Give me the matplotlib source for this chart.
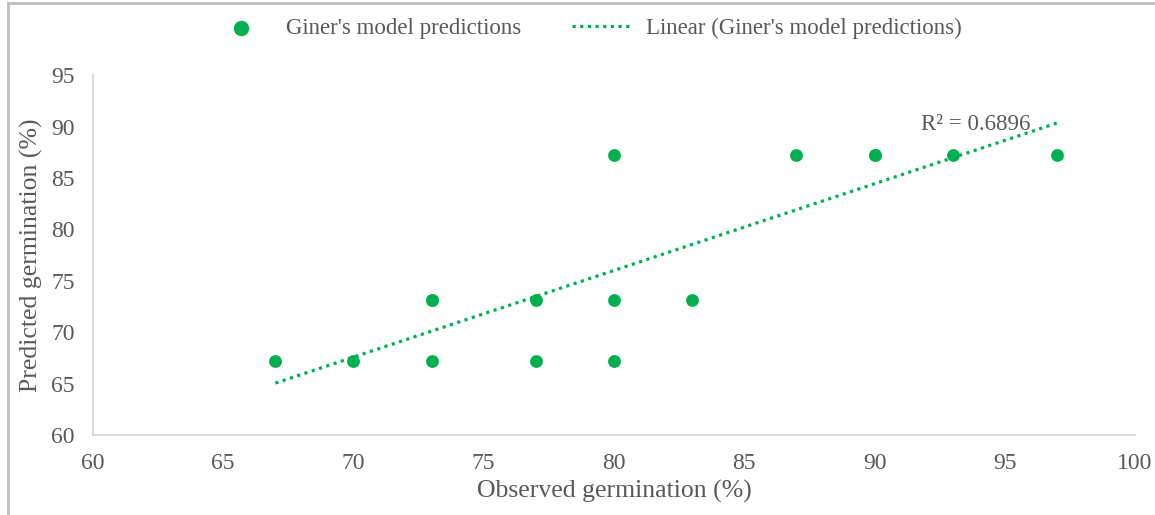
import matplotlib
matplotlib.use("Agg")
import matplotlib.pyplot as plt
from matplotlib.lines import Line2D
import numpy as np

plt.rcParams['font.family'] = ['Liberation Serif', 'DejaVu Serif']

# observed vs predicted germination (%); repeated pairs sit on top of each other
observed = [67, 70, 73, 73, 73, 77, 77, 80, 80, 80, 83, 87, 90, 90, 93, 97]
predicted = [67.2, 67.2, 67.2, 73.1, 73.1, 73.1, 67.2, 87.2, 73.1, 67.2, 73.1,
             87.2, 87.2, 87.2, 87.2, 87.2]
r_squared = 0.6896

x_ticks = [60, 65, 70, 75, 80, 85, 90, 95, 100]
y_ticks = [60, 65, 70, 75, 80, 85, 90, 95]

green = '#00B050'
text_grey = '#595959'
axis_grey = '#D9D9D9'

fig = plt.figure(figsize=(11.55, 5.15), dpi=100)
ax = fig.add_axes([0.0805, 0.155, 0.9022, 0.699])

ax.scatter(observed, predicted, s=85, color=green, zorder=3, linewidths=0,
           label="Giner's model predictions")

# least squares trend line over the observed range
slope, intercept = np.polyfit(observed, predicted, 1)
xs = np.array([min(observed), max(observed)])
ax.plot(xs, slope * xs + intercept, color=green, linestyle=(0, (1, 1.4)),
        linewidth=2.3, label="Linear (Giner's model predictions)", zorder=2)

ax.text(91.8, 90.2, "R\u00b2 = %.4f" % r_squared, fontsize=16.5, color=text_grey,
        ha='left', va='center')

ax.set_xlim(60, 100)
ax.set_ylim(60, 95)
ax.set_xticks(x_ticks)
ax.set_yticks(y_ticks)
ax.tick_params(length=0, labelsize=17, colors=text_grey, pad=13)

for side in ['top', 'right']:
    ax.spines[side].set_visible(False)
for side in ['left', 'bottom']:
    ax.spines[side].set_color(axis_grey)
    ax.spines[side].set_linewidth(1.3)

ax.set_xlabel("Observed germination (%)", fontsize=18.5, color=text_grey, labelpad=4)
ax.set_ylabel("Predicted germination (%)", fontsize=18.5, color=text_grey, labelpad=6)

leg = fig.legend(loc='center', bbox_to_anchor=(0.508, 0.945), ncol=2,
                 frameon=False, fontsize=16.5, handlelength=2.6, handletextpad=0.65,
                 columnspacing=2.2, markerscale=1.2)
for t in leg.get_texts():
    t.set_color(text_grey)

# grey border on the top and left of the chart
fig.add_artist(Line2D([0.007, 0.007], [0, 0.994], transform=fig.transFigure,
                      color='#BFBFBF', linewidth=2))
fig.add_artist(Line2D([0.007, 1.0], [0.994, 0.994], transform=fig.transFigure,
                      color='#BFBFBF', linewidth=2))

fig.savefig("out.png", dpi=100)
